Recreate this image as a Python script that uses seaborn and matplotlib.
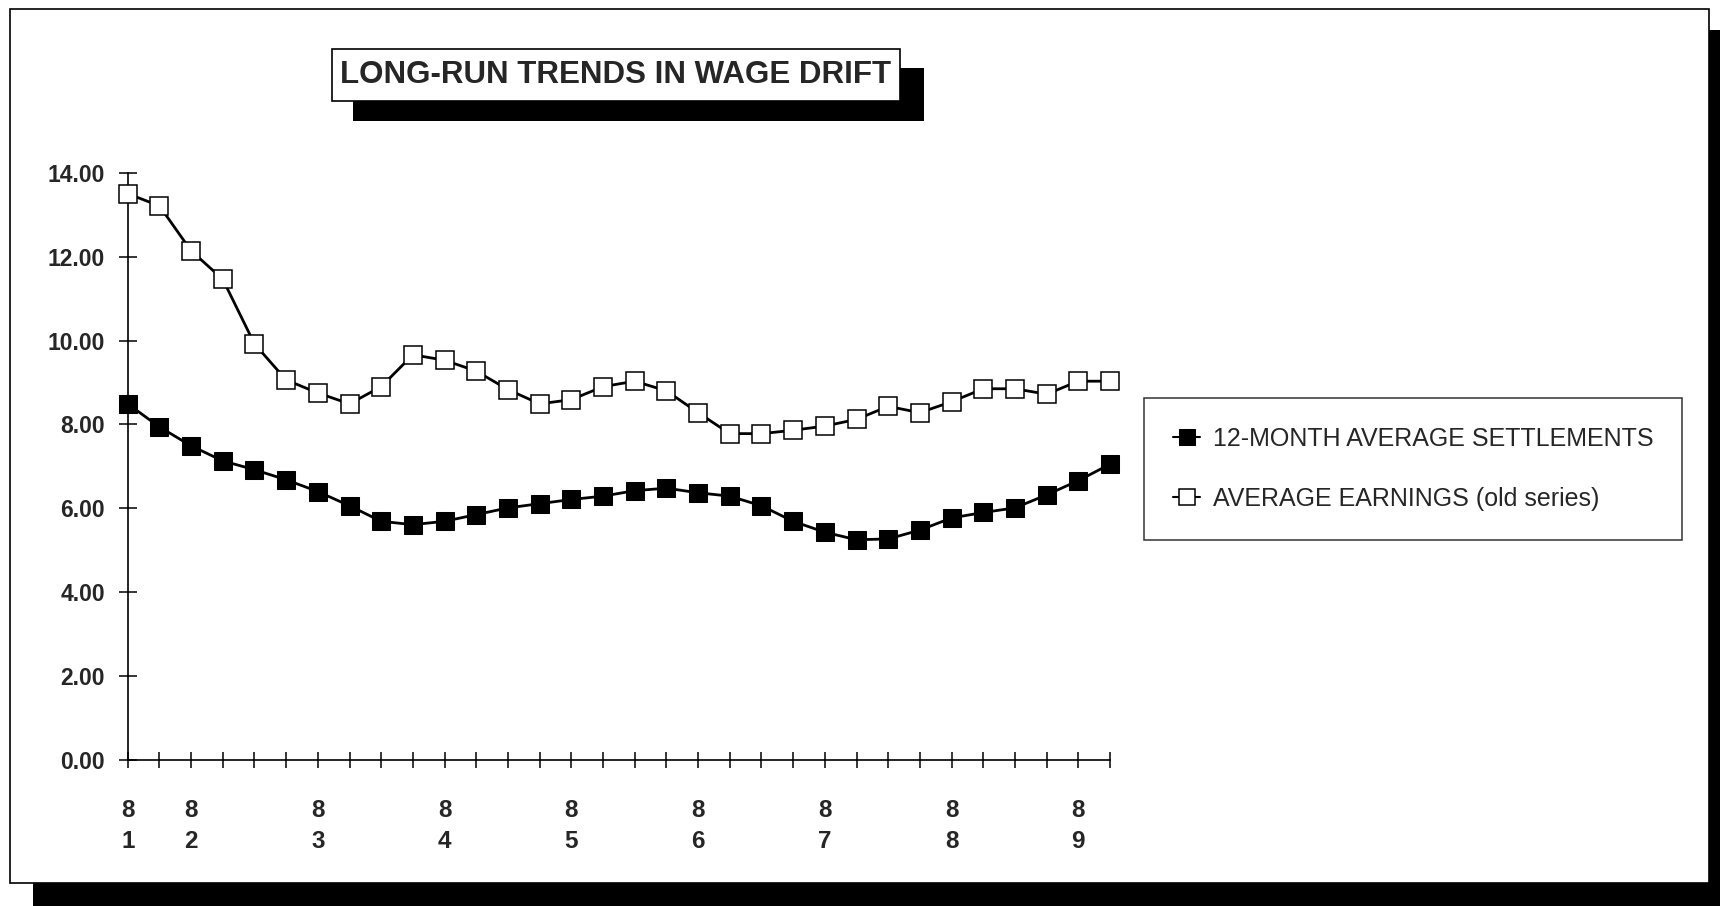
import numpy as np
import pandas as pd
import matplotlib
matplotlib.use("Agg")
import matplotlib.pyplot as plt
import seaborn as sns
from matplotlib.patches import Rectangle

# values (quarterly, 1981 to 1989)
settlements = [8.49, 7.94, 7.49, 7.13, 6.92, 6.68, 6.40, 6.06, 5.69, 5.61,
               5.69, 5.85, 6.01, 6.11, 6.21, 6.29, 6.42, 6.48, 6.37, 6.29,
               6.06, 5.69, 5.43, 5.25, 5.27, 5.48, 5.77, 5.90, 6.01, 6.32,
               6.66, 7.05]
earnings = [13.50, 13.21, 12.14, 11.46, 9.92, 9.06, 8.75, 8.49, 8.90, 9.66,
            9.53, 9.27, 8.83, 8.49, 8.59, 8.90, 9.03, 8.80, 8.28, 7.78,
            7.78, 7.86, 7.96, 8.12, 8.43, 8.28, 8.54, 8.85, 8.85, 8.72,
            9.03, 9.03]
label_pos = [0, 2, 6, 10, 14, 18, 22, 26, 30]
label_txt = ["8\n1", "8\n2", "8\n3", "8\n4", "8\n5", "8\n6", "8\n7", "8\n8", "8\n9"]
yticks = [0, 2, 4, 6, 8, 10, 12, 14]

df = pd.DataFrame({"t": np.arange(len(settlements)),
                   "settle": settlements, "earn": earnings})

sns.set_style("white")
plt.rcParams['font.family'] = ['Liberation Sans', 'DejaVu Sans']

W, H = 1720, 906
fig = plt.figure(figsize=(17.2, 9.06), dpi=100)

def px_rect(x0, y0, x1, y1, **kw):
    # rectangle given in pixel coords measured from the top-left
    r = Rectangle((x0 / W, 1 - y1 / H), (x1 - x0) / W, (y1 - y0) / H,
                  transform=fig.transFigure, **kw)
    fig.add_artist(r)
    return r

# outer frame with drop shadow
px_rect(33, 30, 1720, 906, facecolor='black', edgecolor='none', zorder=-10)
px_rect(10, 9, 1709, 883, facecolor='white', edgecolor='black', lw=1.2, zorder=-9)

ax = fig.add_axes([127.7 / W, 1 - 760 / H, (1110 - 127.7) / W, (760 - 172.7) / H])
ax.patch.set_alpha(0)

sns.lineplot(data=df, x="t", y="settle", ax=ax, color='black', lw=2.0,
             marker='s', markersize=13, markerfacecolor='black',
             markeredgecolor='black', label="12-MONTH AVERAGE SETTLEMENTS",
             clip_on=False, zorder=5)
sns.lineplot(data=df, x="t", y="earn", ax=ax, color='black', lw=2.0,
             marker='s', markersize=13, markerfacecolor='white',
             markeredgecolor='black', markeredgewidth=1.1,
             label="AVERAGE EARNINGS (old series)", clip_on=False, zorder=5)

ax.set_xlim(0, len(settlements) - 1)
ax.set_ylim(0, 14)
ax.set_xlabel("")
ax.set_ylabel("")
for s in ["top", "right"]:
    ax.spines[s].set_visible(False)
for s in ["left", "bottom"]:
    ax.spines[s].set_color('black')
    ax.spines[s].set_linewidth(1.2)

ax.set_yticks(yticks)
ax.set_yticklabels([f"{v:.2f}" for v in yticks], fontsize=16.5, fontweight='bold')
ax.set_xticks(np.arange(len(settlements)))
xl = [""] * len(settlements)
for p, t in zip(label_pos, label_txt):
    xl[p] = t
ax.set_xticklabels(xl, fontsize=17.5, fontweight='bold', linespacing=1.45)
ax.tick_params(axis='y', direction='inout', length=13, width=1.1, color='black', pad=10, left=True)
ax.tick_params(axis='x', direction='inout', length=11.5, width=1.1, color='black', pad=22, bottom=True)

# legend box
leg = ax.legend(loc='upper left', bbox_to_anchor=(1144 / W, 1 - 398 / H),
                bbox_transform=fig.transFigure, fontsize=18, frameon=True,
                fancybox=False, edgecolor='black', borderpad=1.15,
                labelspacing=1.45, handlelength=1.1, handletextpad=0.5,
                borderaxespad=0)
leg.get_frame().set_linewidth(1.1)
for h in leg.legend_handles:
    h.set_markersize(11)
    h.set_linewidth(1.5)

# title box with shadow
px_rect(353, 68, 924, 121, facecolor='black', edgecolor='none', zorder=1)
px_rect(332, 49, 900, 101, facecolor='white', edgecolor='black', lw=1.2, zorder=2)
fig.text((332 + 900) / 2 / W, 1 - 75 / H, "LONG-RUN TRENDS IN WAGE DRIFT",
         ha='center', va='center', fontsize=22.5, fontweight='bold', zorder=3)

fig.savefig("out.png", dpi=100)
